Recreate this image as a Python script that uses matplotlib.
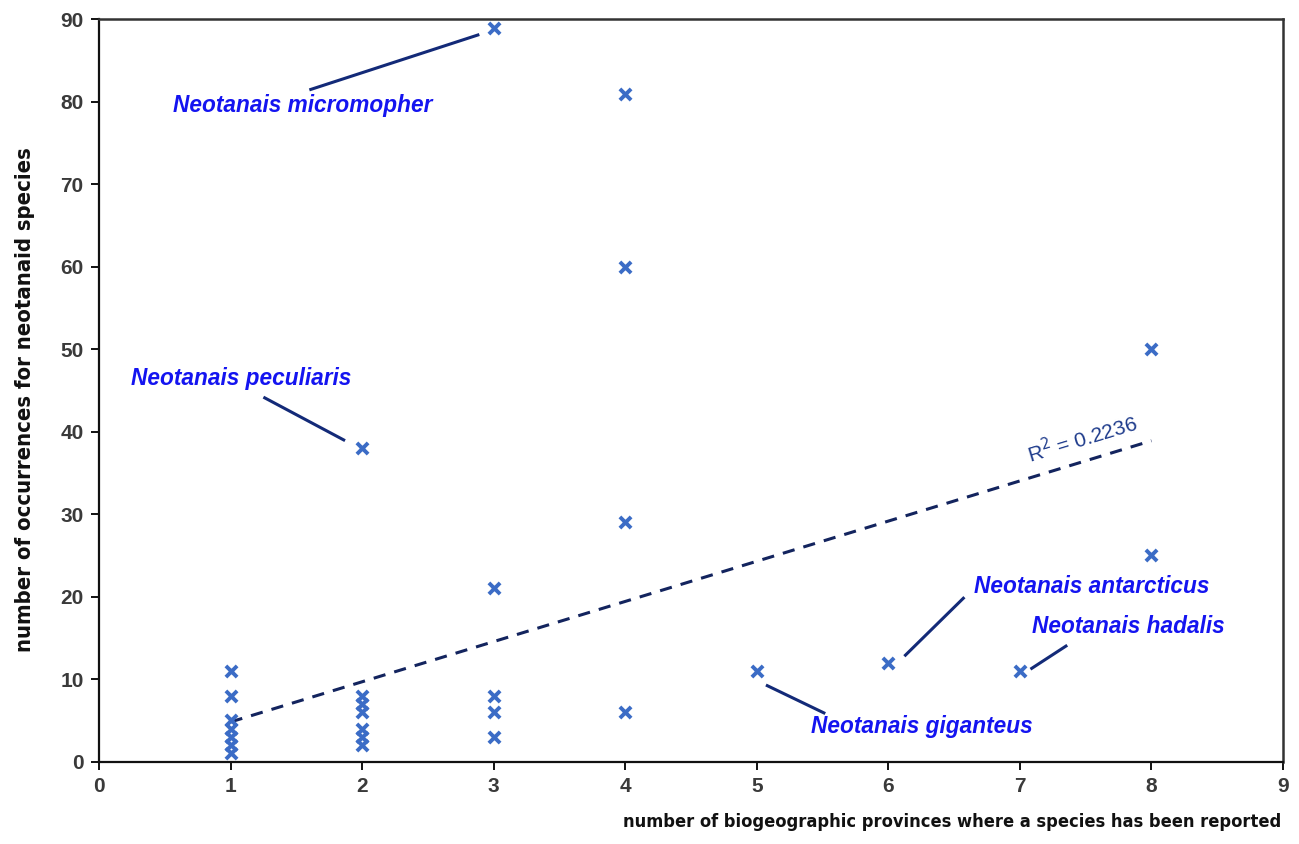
import matplotlib
matplotlib.use("Agg")
import matplotlib.pyplot as plt

# provinces (x) and occurrences (y) for each species
provinces = [1, 1, 1, 1, 1, 1, 1,
             2, 2, 2, 2, 2, 2, 2,
             3, 3, 3, 3, 3,
             4, 4, 4, 4,
             5, 6, 7, 8, 8]
occurrences = [11, 8, 5, 4, 3, 2, 1,
               38, 8, 7, 6, 4, 3, 2,
               89, 21, 8, 6, 3,
               81, 60, 29, 6,
               11, 12, 11, 50, 25]

# trend line ends
trend_x = [1, 8]
trend_y = [4.8, 38.9]
r2_text = "R$^2$ = 0.2236"

# labelled species: name, text position, leader line start, leader line end
labels = ["Neotanais micromopher", "Neotanais peculiaris", "Neotanais antarcticus",
          "Neotanais hadalis", "Neotanais giganteus"]
label_xy = [(0.56, 79.6), (0.24, 46.5), (6.65, 21.2), (7.09, 16.4), (5.41, 4.3)]
line_from = [(1.61, 81.5), (1.26, 44.1), (6.57, 19.8), (7.35, 14.0), (5.08, 9.2)]
line_to = [(2.88, 88.1), (1.86, 39.0), (6.13, 12.9), (7.09, 11.3), (5.51, 5.9)]

fig = plt.figure(figsize=(12.99, 8.44), dpi=100)
ax = fig.add_axes([0.0762, 0.0977, 0.9115, 0.8794])

ax.scatter(provinces, occurrences, marker="x", s=65, linewidths=2.8,
           color="#3b6cc6", zorder=3)
ax.plot(trend_x, trend_y, linestyle=(0, (4, 3)), color="#13245e", linewidth=2.2, zorder=2)
ax.text(7.47, 39.2, r2_text, rotation=16.9, ha="center", va="center",
        fontsize=15, color="#1f3c8c", family=["Liberation Sans", "DejaVu Sans"])

for name, pos, p0, p1 in zip(labels, label_xy, line_from, line_to):
    ax.plot([p0[0], p1[0]], [p0[1], p1[1]], color="#132a78", linewidth=2.2, zorder=2)
    ax.text(pos[0], pos[1], name, ha="left", va="center", fontsize=16.3,
            fontweight="bold", fontstyle="italic", color="#1414f0",
            family=["Liberation Sans", "DejaVu Sans"])

ax.set_xlim(0, 9)
ax.set_ylim(0, 90)
ax.set_xticks(range(0, 10))
ax.set_yticks(range(0, 91, 10))

for side in ["left", "bottom"]:
    ax.spines[side].set_linewidth(1.6)
    ax.spines[side].set_color("#111111")
for side in ["top", "right"]:
    ax.spines[side].set_linewidth(1.8)
    ax.spines[side].set_color("#333333")

ax.tick_params(direction="out", length=6, width=1.4, color="#111111",
               labelsize=15, labelcolor="#3a3a3a", pad=5)
for lbl in ax.get_xticklabels() + ax.get_yticklabels():
    lbl.set_fontweight("bold")
    lbl.set_family(["Liberation Sans", "DejaVu Sans"])

narrow = ["DejaVu Sans"]
fig.text(0.0195, 0.526, "number of occurrences for neotanaid species", rotation=90,
         ha="center", va="center", fontsize=15.8, fontweight="bold", fontstretch="condensed",
         color="#111111", family=narrow)
fig.text(0.986, 0.026, "number of biogeographic provinces where a species has been reported",
         ha="right", va="center", fontsize=13.1, fontweight="bold", fontstretch="condensed",
         color="#111111", family=narrow)

fig.savefig("out.png", dpi=100, facecolor="white")
